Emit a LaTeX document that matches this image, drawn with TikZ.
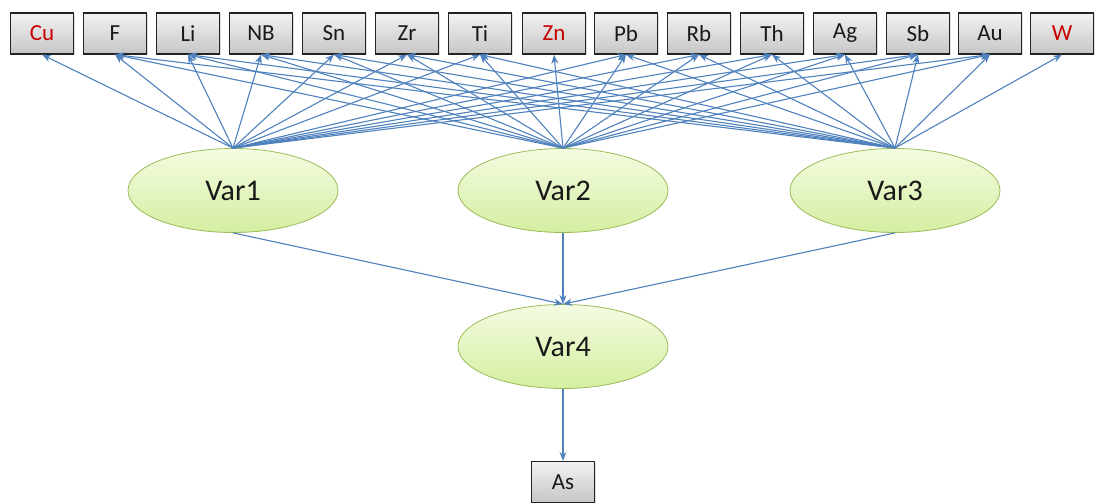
\documentclass[tikz,border=0pt]{standalone}
\usepackage{fontspec}
\setmainfont{Carlito}
\usetikzlibrary{arrows.meta,shapes.geometric,shadows}
\definecolor{lineblue}{RGB}{79,129,189}
\definecolor{boxedge}{RGB}{35,35,35}
\definecolor{boxtop}{RGB}{242,242,242}
\definecolor{boxbot}{RGB}{198,198,198}
\definecolor{elledge}{RGB}{155,187,89}
\definecolor{elltop}{RGB}{244,252,226}
\definecolor{ellbot}{RGB}{212,238,160}
\definecolor{redtext}{RGB}{200,0,0}
\definecolor{darktext}{RGB}{25,25,25}
\begin{document}
\begin{tikzpicture}[x=1pt,y=-1pt,
  elem/.style={draw=boxedge, line width=1.2pt, top color=boxtop, bottom color=boxbot,
    minimum width=63pt, minimum height=41pt, inner sep=0pt, font=\fontsize{23}{26}\selectfont,
    text=darktext, drop shadow={opacity=0.25, shadow xshift=1.5pt, shadow yshift=-1.5pt}},
  redel/.style={text=redtext},
  var/.style={ellipse, draw=elledge, line width=0.8pt, top color=elltop, bottom color=ellbot,
    minimum width=210pt, minimum height=84pt, inner sep=0pt, font=\fontsize{30}{34}\selectfont,
    text=darktext},
  conn/.style={draw=lineblue, line width=1.1pt, -{Stealth[length=9pt,width=7pt]}}]
\useasboundingbox (0,0) rectangle (1095,503);
% top element boxes
\node[elem,redel] (Cu) at (42,33.5) {Cu};
\node[elem] (F)  at (115,33.5) {F};
\node[elem] (Li) at (188,33.5) {Li};
\node[elem] (NB) at (261,33.5) {NB};
\node[elem] (Sn) at (334,33.5) {Sn};
\node[elem] (Zr) at (407,33.5) {Zr};
\node[elem] (Ti) at (480,33.5) {Ti};
\node[elem,redel] (Zn) at (554,33.5) {Zn};
\node[elem] (Pb) at (626,33.5) {Pb};
\node[elem] (Rb) at (699,33.5) {Rb};
\node[elem] (Th) at (772,33.5) {Th};
\node[elem] (Ag) at (845,33.5) {Ag};
\node[elem] (Sb) at (918,33.5) {Sb};
\node[elem] (Au) at (990,33.5) {Au};
\node[elem,redel] (W) at (1062,33.5) {W};
% latent variables
\node[var] (v1) at (233,190.5) {Var1};
\node[var] (v2) at (563,190.5) {Var2};
\node[var] (v3) at (895,190.5) {Var3};
\node[var] (v4) at (563,346.5) {Var4};
\node[elem] (As) at (563,482) {As};
% connectors
\draw[conn] (v1.north) -- (Cu.south);
\draw[conn] (v2.north) -- (Zn.south);
\draw[conn] (v3.north) -- (W.south);
\foreach \s in {v1,v2,v3}{
  \foreach \t in {F,Li,NB,Sn,Zr,Ti,Pb,Rb,Th,Ag,Sb,Au}{
    \draw[conn] (\s.north) -- (\t.south);
  }
}
\draw[conn] (v1.south) -- (v4.north);
\draw[conn] (v2.south) -- (v4.north);
\draw[conn] (v3.south) -- (v4.north);
\draw[conn] (v4.south) -- (As.north);
\end{tikzpicture}
\end{document}
